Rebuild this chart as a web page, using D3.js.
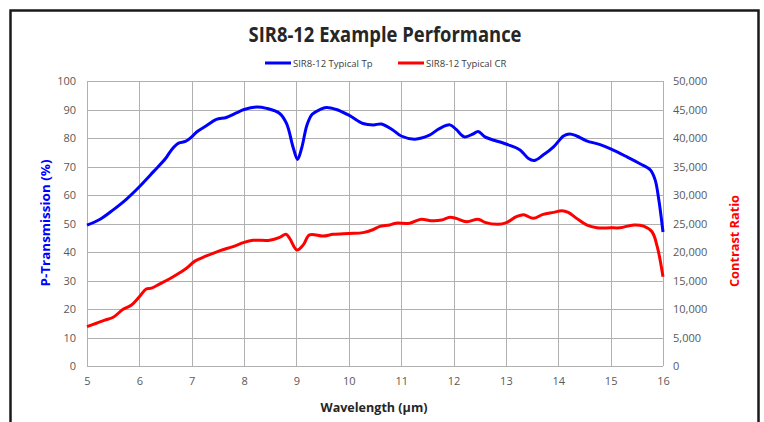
<!DOCTYPE html>
<html>
<head>
<meta charset="utf-8">
<script src="https://cdn.jsdelivr.net/npm/d3@7"></script>
<style>
  body { margin: 0; background: #fff; }
  svg { display: block; font-family: "Open Sans", sans-serif; }
</style>
</head>
<body>
<div id="chart"></div>
<script>
// wavelength (um) and transmission (%)
const tpWave = [5.0, 5.25, 5.5, 5.75, 6.0, 6.27, 6.5, 6.62, 6.75, 6.88, 7.0, 7.1, 7.28, 7.47, 7.66, 7.85, 8.0, 8.24, 8.43, 8.68, 8.81, 8.94, 9.02, 9.1, 9.2, 9.3, 9.45, 9.57, 9.76, 10.0, 10.27, 10.47, 10.62, 10.84, 11.0, 11.26, 11.54, 11.73, 11.93, 12.05, 12.21, 12.37, 12.47, 12.6, 13.0, 13.27, 13.43, 13.54, 13.71, 13.91, 14.1, 14.22, 14.35, 14.54, 14.8, 15.0, 15.31, 15.57, 15.76, 15.85, 15.92, 16.0];
const tpVals = [49.4, 51.5, 54.8, 58.5, 62.9, 68.2, 72.8, 76.0, 78.2, 78.8, 80.4, 82.2, 84.3, 86.5, 87.2, 88.8, 90.0, 90.9, 90.4, 88.6, 85.1, 76.5, 72.5, 76.5, 84.5, 88.3, 90.0, 90.7, 90.0, 88.0, 85.1, 84.6, 84.9, 82.8, 80.7, 79.6, 81.0, 83.3, 84.6, 83.0, 80.4, 81.4, 82.3, 80.4, 77.9, 75.8, 72.8, 72.1, 74.0, 76.9, 80.7, 81.4, 80.7, 79.0, 77.7, 76.2, 73.4, 70.9, 68.8, 65.3, 58.3, 47.0];

// wavelength (um) and contrast ratio
const crWave = [5.0, 5.18, 5.34, 5.5, 5.69, 5.85, 6.0, 6.13, 6.23, 6.39, 6.58, 6.77, 6.9, 7.06, 7.28, 7.54, 7.79, 8.0, 8.17, 8.49, 8.68, 8.8, 8.87, 9.01, 9.13, 9.25, 9.51, 9.7, 10.0, 10.27, 10.47, 10.58, 10.78, 10.9, 11.16, 11.38, 11.57, 11.77, 11.93, 12.05, 12.25, 12.47, 12.6, 12.85, 13.01, 13.2, 13.34, 13.52, 13.71, 13.91, 14.07, 14.19, 14.35, 14.54, 14.74, 15.0, 15.18, 15.44, 15.63, 15.79, 15.89, 16.0];
const crVals = [6900, 7500, 8050, 8550, 9950, 10700, 12150, 13500, 13650, 14400, 15300, 16350, 17150, 18400, 19300, 20250, 20950, 21700, 22050, 22050, 22550, 23100, 22400, 20350, 21250, 23000, 22800, 23100, 23250, 23400, 23950, 24450, 24750, 25050, 25050, 25750, 25500, 25600, 26100, 25900, 25300, 25750, 25200, 24850, 25150, 26200, 26550, 25900, 26600, 26950, 27250, 26950, 25900, 24750, 24250, 24250, 24250, 24750, 24550, 23550, 20950, 15650];

const xTicks = d3.range(5, 17, 1);
const leftTicks = d3.range(0, 101, 10);
const rightTicks = d3.range(0, 50001, 5000);

const W = 764, H = 422;
const plot = { left: 87, right: 663, top: 81, bottom: 366 };

const svg = d3.select("#chart").append("svg")
    .attr("width", W)
    .attr("height", H);

// outer chart frame
svg.append("rect")
    .attr("x", 10.5).attr("y", 10.5)
    .attr("width", 748).attr("height", 440)
    .attr("fill", "#fff")
    .attr("stroke", "#1a1a1a")
    .attr("stroke-width", 2.5);

const x = d3.scaleLinear().domain([5, 16]).range([plot.left, plot.right]);
const yL = d3.scaleLinear().domain([0, 100]).range([plot.bottom, plot.top]);
const yR = d3.scaleLinear().domain([0, 50000]).range([plot.bottom, plot.top]);

const gridColor = "#b0b0b0";

// gridlines
svg.append("g").selectAll("line")
    .data(leftTicks)
    .enter().append("line")
    .attr("x1", plot.left).attr("x2", plot.right)
    .attr("y1", d => Math.round(yL(d)) + 0.5)
    .attr("y2", d => Math.round(yL(d)) + 0.5)
    .attr("stroke", gridColor);

svg.append("g").selectAll("line")
    .data(xTicks)
    .enter().append("line")
    .attr("x1", d => Math.round(x(d)) + 0.5)
    .attr("x2", d => Math.round(x(d)) + 0.5)
    .attr("y1", plot.top).attr("y2", plot.bottom)
    .attr("stroke", gridColor);

// axes (labels only, lines come from the grid)
const fmt = d3.format(",");
const axisStyle = g => {
    g.select(".domain").remove();
    g.selectAll(".tick line").remove();
    g.selectAll(".tick text")
        .attr("fill", "#595959")
        .style("font-size", "11px")
        .style("font-family", "'Open Sans', sans-serif");
};

svg.append("g")
    .attr("transform", "translate(0," + plot.bottom + ")")
    .call(d3.axisBottom(x).tickValues(xTicks).tickSize(0).tickPadding(11))
    .call(axisStyle);

svg.append("g")
    .attr("transform", "translate(" + plot.left + ",0)")
    .call(d3.axisLeft(yL).tickValues(leftTicks).tickSize(0).tickPadding(11))
    .call(axisStyle);

svg.append("g")
    .attr("transform", "translate(" + plot.right + ",0)")
    .call(d3.axisRight(yR).tickValues(rightTicks).tickFormat(fmt).tickSize(0).tickPadding(10))
    .call(axisStyle);

// curves
const tpData = tpWave.map((w, i) => ({ w: w, v: tpVals[i] }));
const crData = crWave.map((w, i) => ({ w: w, v: crVals[i] }));

svg.append("path")
    .datum(crData)
    .attr("fill", "none")
    .attr("stroke", "#ff0000")
    .attr("stroke-width", 3)
    .attr("stroke-linejoin", "round")
    .attr("d", d3.line().x(d => x(d.w)).y(d => yR(d.v)).curve(d3.curveCatmullRom.alpha(0.5)));

svg.append("path")
    .datum(tpData)
    .attr("fill", "none")
    .attr("stroke", "#0000ff")
    .attr("stroke-width", 3)
    .attr("stroke-linejoin", "round")
    .attr("d", d3.line().x(d => x(d.w)).y(d => yL(d.v)).curve(d3.curveCatmullRom.alpha(0.5)));

// title
svg.append("text")
    .attr("x", 385).attr("y", 42)
    .attr("text-anchor", "middle")
    .attr("textLength", 273)
    .attr("lengthAdjust", "spacingAndGlyphs")
    .style("font-size", "21px")
    .style("font-weight", "bold")
    .attr("fill", "#262626")
    .text("SIR8-12 Example Performance");

// legend
const legendItems = [
    { name: "SIR8-12 Typical Tp", color: "#0000ff", x: 265 },
    { name: "SIR8-12 Typical CR", color: "#ff0000", x: 398 }
];
const leg = svg.append("g").selectAll("g")
    .data(legendItems)
    .enter().append("g")
    .attr("transform", d => "translate(" + d.x + ",63)");
leg.append("line")
    .attr("x1", 0).attr("x2", 26)
    .attr("stroke", d => d.color)
    .attr("stroke-width", 3);
leg.append("text")
    .attr("x", 28).attr("y", 3.5)
    .style("font-size", "9.5px")
    .attr("fill", "#404040")
    .text(d => d.name);

// axis titles
svg.append("text")
    .attr("transform", "translate(50,223) rotate(-90)")
    .attr("text-anchor", "middle")
    .attr("textLength", 127)
    .attr("lengthAdjust", "spacingAndGlyphs")
    .style("font-size", "13px")
    .style("font-weight", "bold")
    .attr("fill", "#0000ff")
    .text("P-Transmission (%)");

svg.append("text")
    .attr("transform", "translate(739,241) rotate(-90)")
    .attr("text-anchor", "middle")
    .attr("textLength", 92)
    .attr("lengthAdjust", "spacingAndGlyphs")
    .style("font-size", "13px")
    .style("font-weight", "bold")
    .attr("fill", "#ff0000")
    .text("Contrast Ratio");

svg.append("text")
    .attr("x", 374).attr("y", 412)
    .attr("text-anchor", "middle")
    .attr("textLength", 107)
    .attr("lengthAdjust", "spacingAndGlyphs")
    .style("font-size", "12.5px")
    .style("font-weight", "bold")
    .attr("fill", "#262626")
    .text("Wavelength (µm)");
</script>
</body>
</html>
